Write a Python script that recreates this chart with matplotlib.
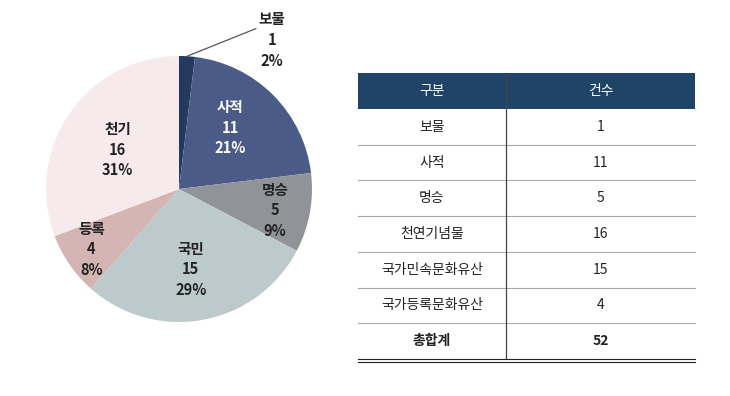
import numpy as np
import matplotlib.pyplot as plt
from matplotlib.patches import Rectangle

plt.rcParams['font.family'] = ['Noto Sans CJK KR', 'DejaVu Sans']

# pie data
pie_names = ["보물", "사적", "명승", "국민", "등록", "천기"]
pie_counts = [1, 11, 5, 15, 4, 16]
pie_pcts = [2, 21, 9, 29, 8, 31]
pie_colors = ["#243a5e", "#4b5b87", "#909398", "#bdcacc", "#d5b5b3", "#f7eaed"]

# table data
table_header = ["구분", "건수"]
table_names = ["보물", "사적", "명승", "천연기념물", "국가민속문화유산", "국가등록문화유산"]
table_counts = [1, 11, 5, 16, 15, 4]
total_label = "총합계"

W, H = 730, 396
fig = plt.figure(figsize=(W / 100, H / 100), dpi=100)

# pie, centre ~ (179,189) px, radius ~133 px
cx, cy, r = 179, 189, 133
ax = fig.add_axes([(cx - r) / W, (H - cy - r) / H, 2 * r / W, 2 * r / H])
wedges, _ = ax.pie(pie_counts, colors=pie_colors, startangle=90, counterclock=False,
                   radius=1)
ax.set_xlim(-1, 1)
ax.set_ylim(-1, 1)
ax.set_aspect('auto')
ax.axis('off')

label_r = [None, 0.6, 0.74, 0.61, 0.8, 0.55]
label_shift = [0, 5, -2, -2, 0, 2]
for i, w in enumerate(wedges):
    txt = f"{pie_names[i]}\n{pie_counts[i]}\n{pie_pcts[i]}%"
    ang = np.deg2rad((w.theta1 + w.theta2) / 2 + label_shift[i])
    if label_r[i] is None:
        x0, y0 = np.cos(ang), np.sin(ang)
        ax.annotate(txt, xy=(x0, y0), xytext=(0.70, 1.12),
                    ha='center', va='center', fontsize=10.5, fontweight='bold',
                    color='#222222', linespacing=1.35, annotation_clip=False,
                    arrowprops=dict(arrowstyle='-', color='#555555', lw=0.9,
                                    relpos=(0.0, 0.72), shrinkA=0, shrinkB=0))
        continue
    col = 'white' if i == 1 else '#222222'
    ax.text(label_r[i] * np.cos(ang), label_r[i] * np.sin(ang), txt,
            ha='center', va='center', fontsize=10.5, fontweight='bold',
            color=col, linespacing=1.35)

# table in pixel coordinates
tx = fig.add_axes([0, 0, 1, 1])
tx.set_xlim(0, W)
tx.set_ylim(H, 0)
tx.axis('off')

left, mid, right = 358, 506, 695
head_top, head_bot = 73, 109
row_h = 35.7
tx.add_patch(Rectangle((left, head_top), right - left, head_bot - head_top,
                       facecolor='#1f4468', edgecolor='none'))
tx.text((left + mid) / 2, (head_top + head_bot) / 2, table_header[0], color='white',
        ha='center', va='center', fontsize=10)
tx.text((mid + right) / 2, (head_top + head_bot) / 2, table_header[1], color='white',
        ha='center', va='center', fontsize=10)

rows = list(zip(table_names, table_counts)) + [(total_label, sum(table_counts))]
for k, (name, cnt) in enumerate(rows):
    y0 = head_bot + k * row_h
    yc = y0 + row_h / 2
    bold = 'bold' if k == len(rows) - 1 else 'normal'
    tx.text((left + mid) / 2, yc, name, ha='center', va='center', fontsize=10,
            color='#222222', fontweight=bold)
    tx.text((mid + right) / 2, yc, str(cnt), ha='center', va='center', fontsize=10,
            color='#222222', fontweight=bold)
    if k < len(rows) - 1:
        tx.plot([left, right], [y0 + row_h] * 2, color='#a8a8a8', lw=0.8)

bottom = head_bot + len(rows) * row_h
tx.plot([mid, mid], [head_top, bottom], color='#444444', lw=0.9)
tx.plot([left, right], [bottom, bottom], color='#222222', lw=0.8)
tx.plot([left, right], [bottom + 3.5, bottom + 3.5], color='#222222', lw=0.8)

fig.savefig("out.png", dpi=100, facecolor='white')
